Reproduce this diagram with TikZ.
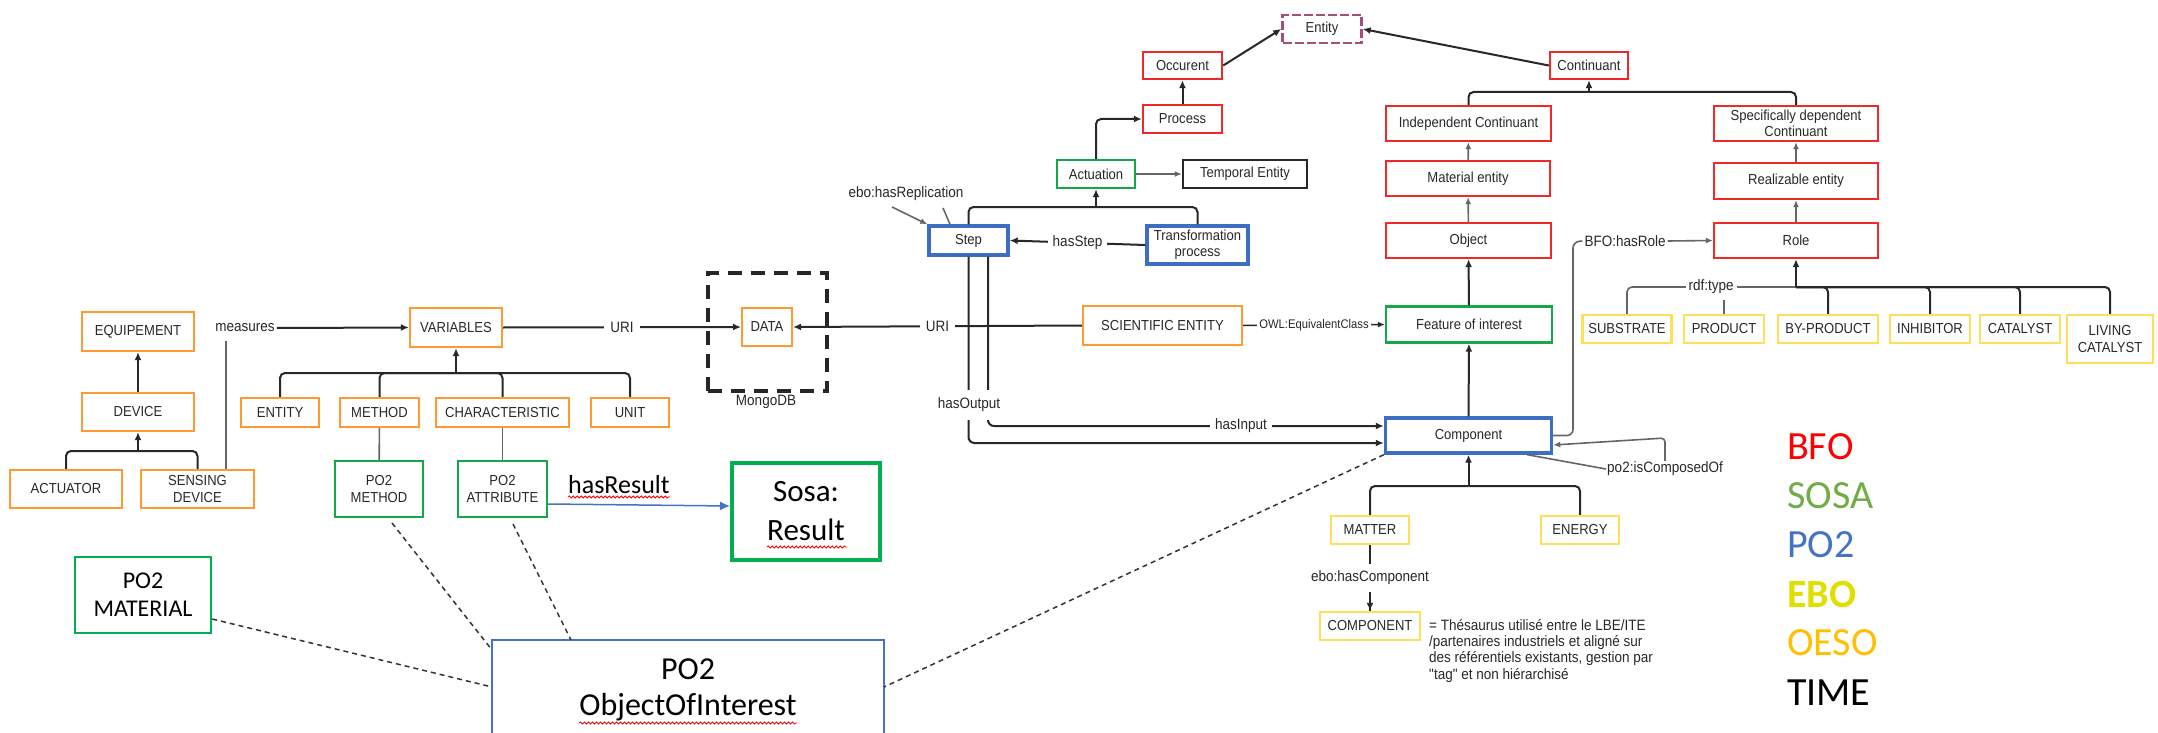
\documentclass[tikz,border=0pt]{standalone}
\usepackage{fontspec}
\newfontfamily\bxf[FakeStretch=0.9]{Liberation Sans}
\newfontfamily\calf{Carlito}
\usetikzlibrary{arrows.meta,decorations.pathmorphing}
\definecolor{cOrange}{RGB}{255,153,51}
\definecolor{cRed}{RGB}{240,40,40}
\definecolor{cBlue}{RGB}{61,110,196}
\definecolor{cGreen}{RGB}{20,168,70}
\definecolor{cYellow}{RGB}{255,222,90}
\definecolor{cPurple}{RGB}{166,77,121}
\definecolor{cSosa}{RGB}{0,176,80}
\definecolor{lBFO}{RGB}{255,0,0}
\definecolor{lSOSA}{RGB}{112,173,71}
\definecolor{lPO}{RGB}{68,114,196}
\definecolor{lEBO}{RGB}{224,224,0}
\definecolor{lOESO}{RGB}{255,192,0}
\definecolor{ink}{RGB}{40,40,40}
\begin{document}
\begin{tikzpicture}[x=1pt,y=-1pt,
  box/.style={draw, line width=2.4pt, fill=white, inner sep=0pt, align=center, font=\bxf\fontsize{14.5}{16.5}\selectfont, text=ink},
  obox/.style={box, draw=cOrange},
  rbox/.style={box, draw=cRed},
  gbox/.style={box, draw=cGreen},
  bbox/.style={box, draw=cBlue, line width=3.4pt},
  ybox/.style={box, draw=cYellow},
  cbox/.style={draw, line width=2.5pt, fill=white, inner sep=0pt, align=center, font=\calf\fontsize{24}{28}\selectfont, text=black},
  sz/.style 2 args={minimum width=#1pt, minimum height=#2pt},
  lbl/.style={font=\bxf\fontsize{15}{17}\selectfont, text=ink, inner sep=2pt},
  tline/.style={draw=ink, line width=2pt},
  arr/.style={tline, -{Latex[length=8pt,width=7pt]}},
  gline/.style={draw=black!60, line width=1.6pt},
  garr/.style={gline, -{Latex[length=7pt,width=6pt]}},
  dline/.style={draw=black!80, line width=1.5pt, dash pattern=on 5pt off 4pt},
  squig/.style={draw=red, line width=0.8pt, decorate, decoration={snake, segment length=4pt, amplitude=1pt}},
  leg/.style={font=\calf\fontsize{40}{48}\selectfont, anchor=base west, inner sep=0pt}
]
\useasboundingbox (0,0) rectangle (2158,733);
\fill[white] (0,0) rectangle (2158,733);
\clip (0,0) rectangle (2158,733);

% ---------- OESO (orange) ----------
\node[obox, sz={112}{39}] (EQUIP) at (138,331.5) {EQUIPEMENT};
\node[obox, sz={112}{38}] (DEVICE) at (138,412) {DEVICE};
\node[obox, sz={112}{38}] (ACT) at (66,489) {ACTUATOR};
\node[obox, sz={113}{38}] (SENS) at (197.5,489) {SENSING\\DEVICE};
\node[obox, sz={92}{39}] (VAR) at (456,327.5) {VARIABLES};
\node[obox, sz={78}{29}] (ENT) at (280,412.5) {ENTITY};
\node[obox, sz={79}{29}] (METH) at (379.5,412.5) {METHOD};
\node[obox, sz={133}{29}] (CHAR) at (502.5,412.5) {CHARACTERISTIC};
\node[obox, sz={78}{29}] (UNIT) at (630,412.5) {UNIT};
\node[obox, line width=2pt, sz={50}{38}] (DATA) at (767,327) {DATA};
\node[obox, sz={159}{39}] (SCI) at (1162.5,325.5) {SCIENTIFIC ENTITY};

% ---------- SOSA (green) ----------
\node[gbox, sz={88}{56}] (PMETH) at (379,489) {PO2\\METHOD};
\node[gbox, sz={89}{56}] (PATTR) at (502.5,489) {PO2\\ATTRIBUTE};
\node[gbox, sz={78}{28}] (ACTU) at (1096,174) {Actuation};
\node[gbox, sz={166}{36}] (FOI) at (1469,324.5) {Feature of interest};
\node[cbox, draw=cSosa, sz={136}{76}] (MAT) at (143,595) {PO2\\MATERIAL};
\node[cbox, draw=cSosa, line width=4pt, sz={148}{97}, font=\calf\fontsize{31}{39}\selectfont] (SOSA) at (806,511.5) {Sosa:\\Result};

% ---------- PO2 (blue) ----------
\node[bbox, sz={79}{29}] (STEP) at (968.5,240.5) {Step};
\node[bbox, sz={101}{38}] (TRANS) at (1197.5,245) {Transformation\\process};
\node[bbox, sz={166}{35}] (COMP) at (1468.5,435.5) {Component};
\node[draw=lPO, line width=2.5pt, fill=white, inner sep=0pt, sz={392}{130}] (OOI) at (688,705) {};
\node[font=\calf\fontsize{32}{38}\selectfont, anchor=base, inner sep=0pt] (OOI1) at (688,679) {PO2};
\node[font=\calf\fontsize{32}{38}\selectfont, anchor=base, inner sep=0pt] (OOI2) at (688,715) {ObjectOfInterest};

% ---------- BFO (red) ----------
\node[rbox, sz={79}{27}] (OCC) at (1182.5,65.5) {Occurent};
\node[rbox, sz={79}{28}] (PROC) at (1182.5,119) {Process};
\node[rbox, sz={78}{27}] (CONT) at (1589,65.5) {Continuant};
\node[rbox, sz={165}{35}] (INDEP) at (1468.5,123.5) {Independent Continuant};
\node[rbox, sz={164}{35}, font=\bxf\fontsize{14.5}{15.5}\selectfont] (SPEC) at (1796,123.5) {Specifically dependent\\Continuant};
\node[rbox, sz={164}{35}] (MENT) at (1468,178.5) {Material entity};
\node[rbox, sz={164}{36}] (REAL) at (1796,181) {Realizable entity};
\node[rbox, sz={165}{35}] (OBJ) at (1468.5,240.5) {Object};
\node[rbox, sz={164}{35}] (ROLE) at (1796,240.5) {Role};

% ---------- TIME / top ----------
\node[box, draw=ink, sz={124}{28}] (TEMP) at (1245,174) {Temporal Entity};
\node[box, draw=cPurple, dash pattern=on 9pt off 3pt, sz={79}{28}] (ENTY) at (1322,29) {Entity};

% ---------- EBO (yellow) ----------
\node[ybox, sz={89}{28}] (SUB) at (1627,329) {SUBSTRATE};
\node[ybox, sz={80}{28}] (PROD) at (1724,329) {PRODUCT};
\node[ybox, sz={100}{28}] (BYP) at (1828,329) {BY-PRODUCT};
\node[ybox, sz={80}{28}] (INH) at (1930,329) {INHIBITOR};
\node[ybox, sz={80}{28}] (CAT) at (2020,329) {CATALYST};
\node[ybox, sz={86}{48}] (LIV) at (2110,339) {LIVING\\CATALYST};
\node[ybox, sz={78}{28}] (MATTER) at (1370,530) {MATTER};
\node[ybox, sz={78}{28}] (ENER) at (1580,530) {ENERGY};
\node[ybox, sz={100}{28}] (COMPO) at (1370,626) {COMPONENT};

% ---------- MongoDB ----------
\node[draw=black!85, line width=3.5pt, dash pattern=on 14pt off 9pt, inner sep=0pt, sz={119}{118}] (MONGO) at (767.5,332) {};
\node[lbl] (MLBL) at (766,402) {MongoDB};

% ---------- coordinates ----------
\coordinate (b1) at (138,451);
\coordinate (b2) at (456,373);
\coordinate (b3) at (1096,207);
\coordinate (b4) at (1589,92);
\coordinate (b5) at (1468.5,486);
\coordinate (b6) at (1796,287);
\coordinate (msr) at (226,341);
\coordinate (rep2) at (943,208);
\coordinate (rep3) at (892,207);
\coordinate (hr1) at (1573,242);
\coordinate (pc1) at (1665,438);
\coordinate (dm1) at (392,523);
\coordinate (dm2) at (492,650);
\coordinate (da1) at (513,524);
\coordinate (da2) at (571,640);
\coordinate (dt2) at (492,687);
\coordinate (dc2) at (884,687);

% ---------- trees ----------
\draw[tline, rounded corners=5pt] (ACT.north) |- (b1);
\draw[tline, rounded corners=5pt] (SENS.north) |- (b1);
\draw[arr] (b1) -- (DEVICE.south);
\draw[arr] (DEVICE) -- (EQUIP);

\draw[tline, rounded corners=5pt] (ENT.north) |- (b2);
\draw[tline, rounded corners=5pt] (METH.north) |- (b2);
\draw[tline, rounded corners=5pt] (CHAR.north) |- (b2);
\draw[tline, rounded corners=5pt] (UNIT.north) |- (b2);
\draw[arr] (b2) -- (VAR.south);

\draw[tline, rounded corners=5pt] (STEP.north) |- (b3);
\draw[tline, rounded corners=5pt] (TRANS.north) |- (b3);
\draw[arr] (b3) -- (ACTU.south);

\draw[tline, rounded corners=5pt] (INDEP.north) |- (b4);
\draw[tline, rounded corners=5pt] (SPEC.north) |- (b4);
\draw[arr] (b4) -- (CONT.south);

\draw[tline, rounded corners=5pt] (MATTER.north) |- (b5);
\draw[tline, rounded corners=5pt] (ENER.north) |- (b5);
\draw[arr] (b5) -- (COMP.south);

\draw[gline, rounded corners=5pt] (SUB.north) |- (b6);
\draw[gline] (PROD.north) -- (PROD.north |- b6);
\draw[tline, rounded corners=5pt] (BYP.north) |- (b6);
\draw[tline, rounded corners=5pt] (INH.north) |- (b6);
\draw[tline, rounded corners=5pt] (CAT.north) |- (b6);
\draw[tline, rounded corners=5pt] (LIV.north) |- (b6);
\draw[arr] (b6) -- (ROLE.south);
\node[lbl, fill=white, inner xsep=3pt, inner ysep=6pt] (RDF) at (1711,287) {rdf:type};

% ---------- BFO chains ----------
\draw[arr] (PROC) -- (OCC);
\draw[arr] (OCC.east) -- (ENTY.west);
\draw[arr] (CONT.west) -- (ENTY.east);
\draw[arr, rounded corners=5pt] (ACTU.north) |- (PROC.west);
\draw[garr] (ACTU) -- (TEMP);
\draw[garr] (MENT) -- (INDEP);
\draw[garr] (OBJ) -- (MENT);
\draw[garr] (REAL) -- (SPEC);
\draw[garr] (ROLE) -- (REAL);
\draw[arr] (FOI) -- (OBJ);
\draw[arr] (COMP) -- (FOI);

% ---------- left part ----------
\draw[gline] (msr) -- (msr |- SENS.north);
\node[lbl] (MEAS) at (245,328) {measures};
\draw[arr] (MEAS.east) -- (VAR.west);
\draw[gline] (METH) -- (PMETH);
\draw[gline] (CHAR) -- (PATTR);
\draw[arr] (VAR.east) -- node[lbl, fill=white, inner xsep=6pt] (URI1) {URI} (DATA.west);

% ---------- Step / Component ----------
\draw[arr] (SCI.west) -- node[lbl, fill=white, inner xsep=6pt] (URI2) {URI} (DATA.east);
\draw[draw=ink, line width=1.5pt, -{Latex[length=7pt,width=6pt]}] (SCI.east) -- node[lbl, fill=white, font=\bxf\fontsize{12.5}{14}\selectfont] (OWL) {OWL:EquivalentClass} (FOI.west);
\draw[arr] (TRANS.west) -- node[lbl, fill=white, inner xsep=5pt] (HSTEP) {hasStep} (STEP.east);
\node[lbl] (REP) at (906,194) {ebo:hasReplication};
\draw[gline] ([xshift=-18.5pt]STEP.north) -- (rep2);
\draw[garr] (rep3) -- (STEP.north west);
\draw[arr, rounded corners=6pt] (STEP.south) |- ([yshift=-7.5pt]COMP.west);
\draw[arr, rounded corners=6pt] ([xshift=19.5pt]STEP.south) |- ([yshift=9.5pt]COMP.west);
\node[lbl, fill=white, inner xsep=1pt, inner ysep=8pt] (HOUT) at (969,405) {hasOutput};
\node[lbl, fill=white, inner xsep=5pt] (HIN) at (1241,426) {hasInput};

\node[lbl] (HR) at (1625,241) {BFO:hasRole};
\draw[gline, rounded corners=6pt] (COMP.east) -| (hr1) -- (HR.west);
\draw[garr] (HR.east) -- (ROLE.west);

\node[lbl, inner sep=1pt] (PCO) at (1665,469) {po2:isComposedOf};
\draw[gline] ([xshift=-26pt]COMP.south east) -- (PCO.west);
\draw[garr, rounded corners=4pt] (PCO.north) -- (pc1) -- ([yshift=-9.5pt]COMP.east);

\draw[tline] (MATTER) -- node[lbl, fill=white, inner ysep=7pt] (HCOMP) {ebo:hasComponent} (COMPO);
\draw[arr] (HCOMP.south) -- (COMPO.north);

\node[font=\bxf\fontsize{15}{16.3}\selectfont, text=ink, align=left, anchor=north west, inner sep=0pt] (NOTE) at (1429,619) {= Thésaurus utilisé entre le LBE/ITE\\/partenaires industriels et aligné sur\\des référentiels existants, gestion par\\"tag" et non hiérarchisé};

% ---------- Sosa result ----------
\node[font=\calf\fontsize{26}{30}\selectfont, anchor=base west, inner sep=0pt] (HRES) at (568,493) {hasResult};
\draw[draw=lPO, line width=1.5pt, -{Latex[length=10pt,width=9pt]}] ([yshift=-15pt]PATTR.east) -- ([yshift=5.5pt]SOSA.west);

% ---------- dashed links ----------
\draw[dline] (dm1) -- (dm2);
\draw[dline] (da1) -- (da2);
\draw[dline] ([yshift=-24pt]MAT.east) -- (dt2);
\draw[dline] (COMP.south west) -- (dc2);

% ---------- spell-check squiggles ----------
\draw[squig] ([yshift=-4pt]HRES.base west) -- ([yshift=-4pt]HRES.base east);
\draw[squig] ([xshift=-39pt,yshift=15pt]SOSA.south) -- ([xshift=41pt,yshift=15pt]SOSA.south);
\draw[squig] ([yshift=-8pt]OOI2.base west) -- ([yshift=-8pt]OOI2.base east);

% ---------- legend ----------
\node[leg, text=lBFO] (LBFO) at (1787,459) {BFO};
\node[leg, text=lSOSA] (LSOSA) at (1787,508) {SOSA};
\node[leg, text=lPO] (LPO) at (1787,557) {PO2};
\node[leg, text=lEBO, font=\calf\bfseries\fontsize{40}{48}\selectfont] (LEBO) at (1787,607) {EBO};
\node[leg, text=lOESO] (LOESO) at (1787,655) {OESO};
\node[leg, text=black] (LTIME) at (1787,705) {TIME};
\end{tikzpicture}
\end{document}
